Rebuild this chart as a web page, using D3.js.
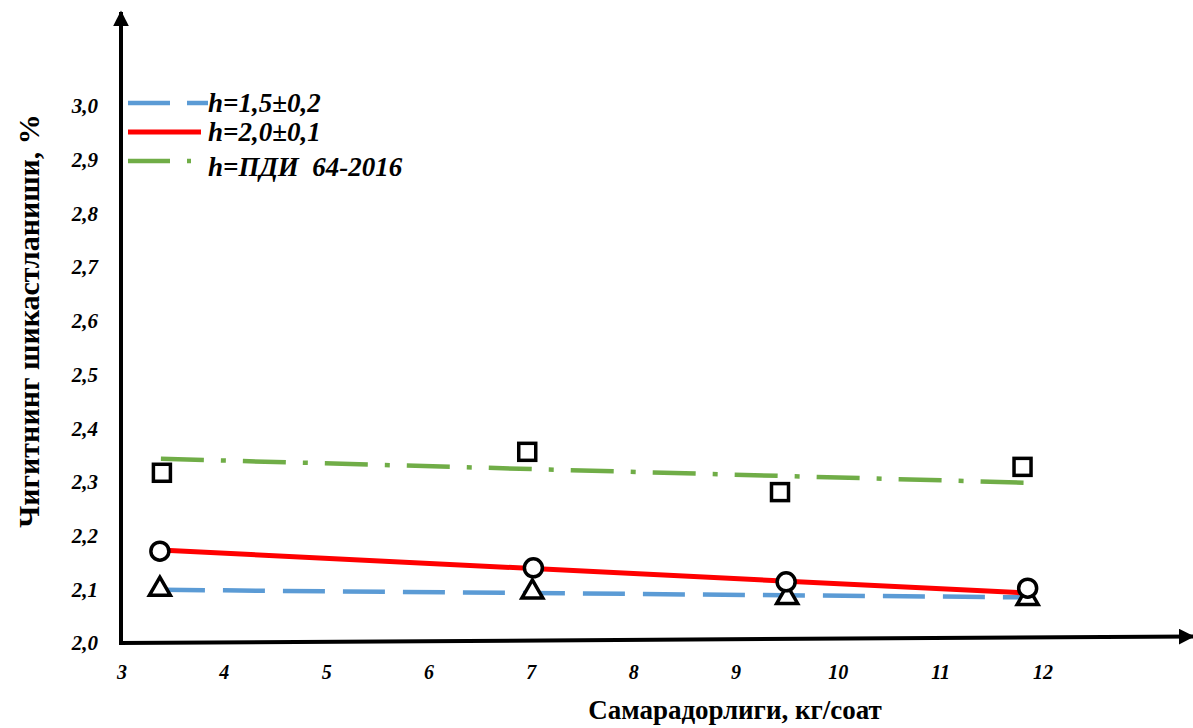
<!DOCTYPE html>
<html>
<head>
<meta charset="utf-8">
<script src="https://cdn.jsdelivr.net/npm/d3@7"></script>
<style>
  html, body { margin: 0; padding: 0; background: #fff; }
  svg { display: block; }
</style>
</head>
<body>
<svg id="chart" width="1193" height="728"></svg>
<script>
// ---- data ----
const xTicks = [3, 4, 5, 6, 7, 8, 9, 10, 11, 12];
const yTicks = [2.0, 2.1, 2.2, 2.3, 2.4, 2.5, 2.6, 2.7, 2.8, 2.9, 3.0];

// measured points
const squareX = [3.39, 6.96, 9.43, 11.80];
const squareY = [2.317, 2.356, 2.281, 2.328];
const circleX = [3.37, 7.02, 9.49, 11.85];
const circleY = [2.171, 2.140, 2.114, 2.102];
const triangleX = [3.37, 7.01, 9.50, 11.85];
const triangleY = [2.100, 2.095, 2.085, 2.083];

// trend lines (start and end)
const trendGreenX = [3.38, 11.93];
const trendGreenY = [2.343, 2.298];
const trendRedX = [3.37, 11.85];
const trendRedY = [2.173, 2.093];
const trendBlueX = [3.40, 11.85];
const trendBlueY = [2.099, 2.085];

const legendLabels = ["h=1,5±0,2", "h=2,0±0,1", "h=ПДИ  64-2016"];
const xTitle = "Самарадорлиги, кг/соат";
const yTitle = "Чигитнинг шикастланиши, %";

// ---- drawing ----
const svg = d3.select("#chart");
const x = d3.scaleLinear().domain([3, 12]).range([122, 1043]);
const y = d3.scaleLinear().domain([2.0, 3.0]).range([643, 106]);

const serif = "Liberation Serif";

// trend lines
const line = d3.line().x(d => x(d[0])).y(d => y(d[1]));
const zip = (a, b) => a.map((v, i) => [v, b[i]]);

svg.append("path").attr("d", line(zip(trendGreenX, trendGreenY)))
  .attr("fill", "none").attr("stroke", "#70AD47").attr("stroke-width", 4.5)
  .attr("stroke-dasharray", "43,17,5,17");
svg.append("path").attr("d", line(zip(trendBlueX, trendBlueY)))
  .attr("fill", "none").attr("stroke", "#5B9BD5").attr("stroke-width", 4.5)
  .attr("stroke-dasharray", "42,18");
svg.append("path").attr("d", line(zip(trendRedX, trendRedY)))
  .attr("fill", "none").attr("stroke", "#FF0000").attr("stroke-width", 5);

// markers
const sym = (type, size) => d3.symbol().type(type).size(size);
svg.append("g").selectAll("path").data(zip(triangleX, triangleY)).join("path")
  .attr("d", sym(d3.symbolTriangle, 190)())
  .attr("transform", d => `translate(${x(d[0])},${y(d[1])})`)
  .attr("fill", "#fff").attr("stroke", "#000").attr("stroke-width", 3.5);
svg.append("g").selectAll("circle").data(zip(circleX, circleY)).join("circle")
  .attr("cx", d => x(d[0])).attr("cy", d => y(d[1])).attr("r", 9)
  .attr("fill", "#fff").attr("stroke", "#000").attr("stroke-width", 3.5);
svg.append("g").selectAll("rect").data(zip(squareX, squareY)).join("rect")
  .attr("x", d => x(d[0]) - 8.5).attr("y", d => y(d[1]) - 8.5)
  .attr("width", 17).attr("height", 17)
  .attr("fill", "#fff").attr("stroke", "#000").attr("stroke-width", 3.5);

// axes with arrows
svg.append("defs").append("marker")
  .attr("id", "arrow").attr("viewBox", "0 0 10 10").attr("refX", 9).attr("refY", 5)
  .attr("markerWidth", 4).attr("markerHeight", 4).attr("markerUnits", "strokeWidth")
  .attr("orient", "auto")
  .append("path").attr("d", "M0,0 L10,5 L0,10 Z").attr("fill", "#000");

svg.append("line").attr("x1", 121).attr("y1", 645).attr("x2", 121).attr("y2", 12)
  .attr("stroke", "#000").attr("stroke-width", 4).attr("marker-end", "url(#arrow)");
svg.append("line").attr("x1", 119).attr("y1", 643).attr("x2", 1193).attr("y2", 636.5)
  .attr("stroke", "#000").attr("stroke-width", 4).attr("marker-end", "url(#arrow)");

// tick labels
svg.append("g").selectAll("text").data(yTicks).join("text")
  .attr("x", 98).attr("y", d => y(d)).attr("dy", "0.35em")
  .attr("text-anchor", "end")
  .attr("font-family", serif).attr("font-weight", "bold").attr("font-style", "italic")
  .attr("font-size", 21)
  .text(d => d3.format(".1f")(d).replace(".", ","));

svg.append("g").selectAll("text").data(xTicks).join("text")
  .attr("x", d => x(d)).attr("y", 672).attr("dy", "0.35em")
  .attr("text-anchor", "middle")
  .attr("font-family", serif).attr("font-weight", "bold").attr("font-style", "italic")
  .attr("font-size", 20)
  .text(d => d);

// axis titles
svg.append("text").attr("x", 735).attr("y", 719)
  .attr("text-anchor", "middle")
  .attr("font-family", serif).attr("font-weight", "bold").attr("font-size", 27)
  .text(xTitle);
svg.append("text")
  .attr("transform", "translate(39,321) rotate(-90)")
  .attr("text-anchor", "middle")
  .attr("font-family", serif).attr("font-weight", "bold").attr("font-size", 30)
  .text(yTitle);

// legend
const legendY = [103, 132, 161];
const legendColors = ["#5B9BD5", "#FF0000", "#70AD47"];
const legendDash = ["42,17", null, "42,17,4,30"];
const lg = svg.append("g");
legendLabels.forEach((lab, i) => {
  lg.append("line").attr("x1", 128).attr("x2", i === 1 ? 201 : 208)
    .attr("y1", legendY[i]).attr("y2", legendY[i])
    .attr("stroke", legendColors[i]).attr("stroke-width", i === 1 ? 5 : 4.5)
    .attr("stroke-dasharray", legendDash[i]);
  lg.append("text").attr("x", 208).attr("y", legendY[i] + (i === 2 ? 6 : 0)).attr("dy", "0.35em")
    .attr("font-family", serif).attr("font-weight", "bold").attr("font-style", "italic")
    .attr("font-size", 27).attr("xml:space", "preserve")
    .style("white-space", "pre")
    .text(lab);
});
</script>
</body>
</html>
